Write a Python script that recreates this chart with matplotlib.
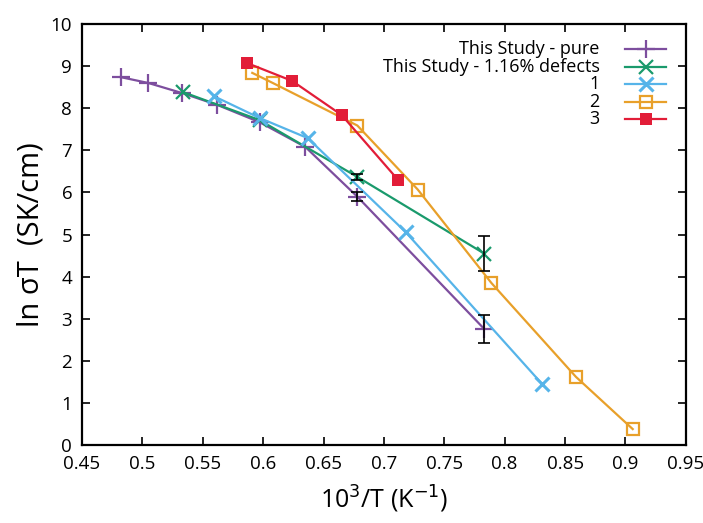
import matplotlib.pyplot as plt
from matplotlib.lines import Line2D

# data
pure_x = [0.482, 0.505, 0.533, 0.562, 0.597, 0.635, 0.678, 0.783]
pure_y = [8.74, 8.60, 8.36, 8.08, 7.67, 7.08, 5.90, 2.76]
pure_err = [0, 0, 0, 0, 0, 0, 0.10, 0.33]

def_x = [0.534, 0.597, 0.678, 0.783]
def_y = [8.38, 7.72, 6.37, 4.55]
def_err = [0, 0, 0.08, 0.41]

s1_x = [0.559, 0.597, 0.637, 0.718, 0.831]
s1_y = [8.29, 7.77, 7.29, 5.06, 1.45]

s2_x = [0.591, 0.608, 0.678, 0.728, 0.789, 0.859, 0.906]
s2_y = [8.84, 8.60, 7.59, 6.07, 3.85, 1.62, 0.38]

s3_x = [0.587, 0.624, 0.665, 0.712]
s3_y = [9.07, 8.65, 7.84, 6.29]

labels = ['This Study - pure', 'This Study - 1.16% defects', '1', '2', '3']

plt.rcParams['font.family'] = ['Open Sans', 'DejaVu Sans']

fig = plt.figure(figsize=(7.03, 5.23), dpi=100)
ax = fig.add_axes([0.1166, 0.149, 0.859, 0.805])

purple = '#7d4e9e'
green = '#1a9a6c'
cyan = '#56b4e9'
orange = '#e8a02a'
red = '#e21d38'

styles = [
    dict(color=purple, lw=1.6, marker='+', ms=13, mew=1.6),
    dict(color=green, lw=1.6, marker='x', ms=10, mew=1.6),
    dict(color=cyan, lw=1.6, marker='x', ms=10, mew=2.2),
    dict(color=orange, lw=1.6, marker='s', ms=9, mew=1.6, mfc='none'),
    dict(color=red, lw=1.6, marker='s', ms=8, mew=0),
]
series = [(pure_x, pure_y), (def_x, def_y), (s1_x, s1_y), (s2_x, s2_y), (s3_x, s3_y)]

for (xs, ys), st in zip(series, styles):
    ax.plot(xs, ys, **st)

ax.errorbar(pure_x[-2:], pure_y[-2:], yerr=pure_err[-2:], fmt='none',
            ecolor='black', elinewidth=1.2, capsize=4, capthick=1.2)
ax.errorbar(def_x[-2:], def_y[-2:], yerr=def_err[-2:], fmt='none',
            ecolor='black', elinewidth=1.2, capsize=4, capthick=1.2)

# gnuplot-style key: right-justified text, sample to the right
for i, (lab, st) in enumerate(zip(labels, styles)):
    yk = 0.94 - i * 0.0415
    ax.text(0.857, yk, lab, transform=ax.transAxes, ha='right', va='center',
            fontsize=13)
    ax.add_line(Line2D([0.90, 0.967], [yk, yk], transform=ax.transAxes,
                       color=st['color'], lw=st['lw']))
    st2 = {k: v for k, v in st.items() if k != 'lw'}
    ax.add_line(Line2D([0.9335], [yk], transform=ax.transAxes, lw=0, **st2))

ax.set_xlim(0.45, 0.95)
ax.set_ylim(0, 10)
ax.set_xticks([0.45, 0.5, 0.55, 0.6, 0.65, 0.7, 0.75, 0.8, 0.85, 0.9, 0.95])
ax.set_xticklabels(['0.45', '0.5', '0.55', '0.6', '0.65', '0.7', '0.75',
                    '0.8', '0.85', '0.9', '0.95'])
ax.set_yticks(range(0, 11))
ax.tick_params(direction='in', top=True, right=True, length=6, width=1.2,
               labelsize=13.5, pad=7)
for s in ax.spines.values():
    s.set_linewidth(1.6)

ax.set_xlabel(r'10$^{3}$/T (K$^{-1}$)', fontsize=18, labelpad=8)
ax.set_ylabel(r'ln σT  (SK/cm)', fontsize=21, labelpad=4)

fig.savefig('out.png', dpi=100)
